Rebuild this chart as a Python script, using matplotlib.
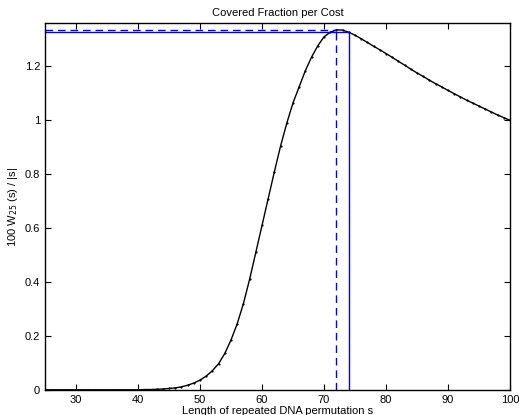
import matplotlib
matplotlib.use("Agg")
import matplotlib.pyplot as plt
import numpy as np

plt.rcParams['font.family'] = ['Liberation Sans', 'DejaVu Sans']

# data
s = list(range(25, 101))
value = [0.000] * 16 + [
    0.001, 0.001, 0.002, 0.003, 0.005, 0.007, 0.011, 0.017, 0.025,      # 41-49
    0.036, 0.051, 0.071, 0.097, 0.135, 0.185, 0.245, 0.320, 0.410, 0.510,  # 50-59
    0.610, 0.710, 0.810, 0.905, 0.990, 1.065, 1.125, 1.185, 1.235, 1.277,  # 60-69
    1.310, 1.327, 1.336, 1.335, 1.327, 1.316, 1.303, 1.289, 1.275, 1.262,  # 70-79
    1.248, 1.234, 1.219, 1.205, 1.190, 1.176, 1.163, 1.149, 1.136, 1.124,  # 80-89
    1.111, 1.099, 1.087, 1.075, 1.064, 1.053, 1.042, 1.031, 1.020, 1.010,  # 90-99
    1.000,
]
opt_dashed = 72
opt_solid = 74

fig = plt.figure(figsize=(5.19, 4.15), dpi=100)
ax = fig.add_axes([0.0867, 0.0607, 0.896, 0.883])

ax.plot(s, value, '-', color='black', lw=1.0, marker='.', markersize=1.2)

for opt, ls in [(opt_dashed, '--'), (opt_solid, '-')]:
    v = value[s.index(opt)]
    kw = dict(color='blue', ls=ls, lw=1.0)
    if ls == '--':
        kw['dashes'] = (5.5, 3.5)
    ax.plot([25, opt], [v, v], **kw)
    ax.plot([opt, opt], [0, v], **kw)

ax.set_xlim(25, 100)
ax.set_ylim(0, 1.36)
ax.set_xticks(range(30, 101, 10))
ax.set_yticks(np.arange(0, 1.21, 0.2))
ax.set_yticklabels(['0', '0.2', '0.4', '0.6', '0.8', '1', '1.2'])
ax.tick_params(direction='in', top=True, right=True, labelsize=8, length=4, width=0.8)
for sp in ax.spines.values():
    sp.set_linewidth(1.0)

ax.set_title('Covered Fraction per Cost', fontsize=8, pad=5)
ax.set_xlabel('Length of repeated DNA permutation s', fontsize=8, labelpad=1)
ax.set_ylabel('100 W$_{25}$ (s) / |s|', fontsize=8, labelpad=3)

fig.savefig('out.png', dpi=100)
